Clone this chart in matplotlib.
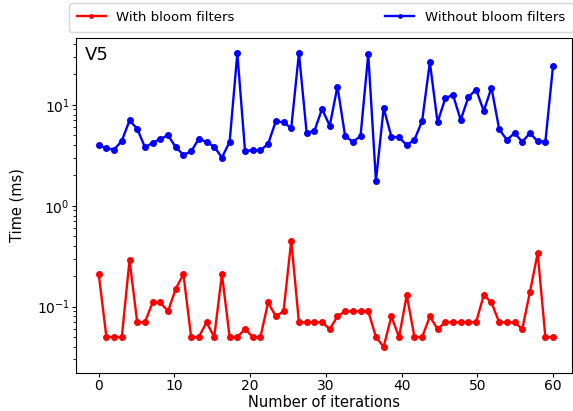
import numpy as np
import matplotlib
matplotlib.use('Agg')
import matplotlib.pyplot as plt

# Measured times (ms) per iteration
with_bloom = [0.21, 0.05, 0.05, 0.05, 0.29, 0.07, 0.07, 0.11, 0.11, 0.09,
              0.15, 0.21, 0.05, 0.05, 0.07, 0.05, 0.21, 0.05, 0.05, 0.06,
              0.05, 0.05, 0.11, 0.08, 0.09, 0.45, 0.07, 0.07, 0.07, 0.07,
              0.06, 0.08, 0.09, 0.09, 0.09, 0.09, 0.05, 0.04, 0.08, 0.05,
              0.13, 0.05, 0.05, 0.08, 0.06, 0.07, 0.07, 0.07, 0.07, 0.07,
              0.13, 0.11, 0.07, 0.07, 0.07, 0.06, 0.14, 0.34, 0.05, 0.05]
without_bloom = [4.0, 3.7, 3.6, 4.4, 7.0, 5.8, 3.8, 4.2, 4.6, 5.0,
                 3.8, 3.2, 3.45, 4.6, 4.3, 3.85, 3.0, 4.3, 32.5, 3.5,
                 3.55, 3.55, 4.1, 6.9, 6.7, 5.9, 32.5, 5.3, 5.5, 9.1,
                 6.2, 15.2, 4.9, 4.3, 4.9, 31.8, 1.76, 9.3, 4.85, 4.75,
                 4.0, 4.5, 6.95, 26.5, 6.7, 11.6, 12.6, 7.1, 11.9, 14.2,
                 8.7, 14.8, 5.75, 4.5, 5.25, 4.3, 5.25, 4.35, 4.3, 24.5]
iterations = np.linspace(0, 60, len(with_bloom))

fig = plt.figure(figsize=(5.73, 4.11), dpi=100)
ax = fig.add_axes([76 / 573, 38 / 411, 496 / 573, 335 / 411])

ax.plot(iterations, with_bloom, 'r.-', lw=1.7, ms=8, label='With bloom filters')
ax.plot(iterations, without_bloom, 'b.-', lw=1.7, ms=8, label='Without bloom filters')

ax.set_yscale('log')
ax.set_ylim(0.022, 46)
ax.set_xlim(-3, 62.5)
ax.set_xlabel('Number of iterations', fontsize=10.5, labelpad=1)
ax.set_ylabel('Time (ms)', fontsize=10.5, labelpad=9)
ax.tick_params(labelsize=10, length=3, pad=1.5)
ax.tick_params(which='minor', length=2)
ax.text(0.018, 0.975, 'V5', transform=ax.transAxes, fontsize=13, va='top')

fig.legend(loc='lower left', bbox_to_anchor=(69 / 573, 1 - 32 / 411, 504 / 573, 27 / 411),
           mode='expand', ncol=2, fontsize=9.5, borderaxespad=0, markerscale=0.6,
           handlelength=2.2, borderpad=0.6)

fig.savefig('out.png', dpi=100)
